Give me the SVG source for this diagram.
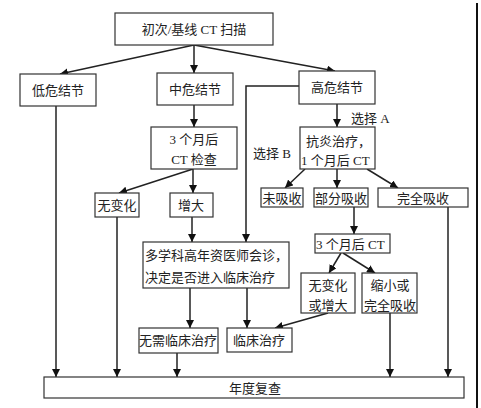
<svg xmlns="http://www.w3.org/2000/svg" width="481" height="408" viewBox="0 0 481 408">
<style>
.b{fill:#fff;stroke:#333;stroke-width:1.2}
.t{font-family:"Liberation Serif","Noto Sans CJK SC",serif;font-size:13px;fill:#222}
.c{text-anchor:middle}
.l{fill:none;stroke:#222;stroke-width:1.5}
</style>
<defs>
<marker id="a" viewBox="0 0 10 10" refX="10" refY="5" markerWidth="8" markerHeight="8" markerUnits="userSpaceOnUse" orient="auto">
<path d="M0,0L10,5L0,10z" fill="#111"/>
</marker>
</defs>
<rect width="481" height="408" fill="#fff"/>
<line x1="477" y1="3" x2="477" y2="408" stroke="#111" stroke-width="2"/>
<g id="connectors" class="l">
<line x1="194" y1="45" x2="60" y2="74" marker-end="url(#a)"/>
<line x1="194" y1="45" x2="194" y2="73" marker-end="url(#a)"/>
<line x1="194" y1="45" x2="335" y2="71" marker-end="url(#a)"/>
<line x1="56" y1="106" x2="56" y2="377" marker-end="url(#a)"/>
<line x1="194" y1="105" x2="194" y2="127" marker-end="url(#a)"/>
<line x1="193" y1="169" x2="119" y2="193" marker-end="url(#a)"/>
<line x1="193" y1="169" x2="193" y2="193" marker-end="url(#a)"/>
<line x1="117" y1="217" x2="117" y2="377" marker-end="url(#a)"/>
<line x1="192" y1="217" x2="192" y2="242" marker-end="url(#a)"/>
<polyline points="299,86 246,86 246,242" marker-end="url(#a)"/>
<line x1="190" y1="288" x2="190" y2="328" marker-end="url(#a)"/>
<line x1="247" y1="288" x2="247" y2="328" marker-end="url(#a)"/>
<line x1="177" y1="353" x2="177" y2="377" marker-end="url(#a)"/>
<line x1="337" y1="104" x2="337" y2="127" marker-end="url(#a)"/>
<line x1="305" y1="169" x2="285" y2="188" marker-end="url(#a)"/>
<line x1="337" y1="169" x2="337" y2="188" marker-end="url(#a)"/>
<line x1="367" y1="169" x2="398" y2="188" marker-end="url(#a)"/>
<line x1="354" y1="207" x2="354" y2="234" marker-end="url(#a)"/>
<line x1="448" y1="207" x2="448" y2="377" marker-end="url(#a)"/>
<line x1="341" y1="253" x2="329" y2="273" marker-end="url(#a)"/>
<line x1="343" y1="253" x2="375" y2="273" marker-end="url(#a)"/>
<line x1="328" y1="313" x2="275" y2="328" marker-end="url(#a)"/>
<line x1="390" y1="313" x2="390" y2="377" marker-end="url(#a)"/>
</g>
<g id="n-top"><rect class="b" x="115" y="13" width="158" height="32"/><text class="t c" x="194" y="34">初次/基线 CT 扫描</text></g>
<g id="n-low"><rect class="b" x="20" y="74" width="76" height="32"/><text class="t c" x="58" y="95">低危结节</text></g>
<g id="n-mid"><rect class="b" x="157" y="73" width="76" height="32"/><text class="t c" x="195" y="94">中危结节</text></g>
<g id="n-high"><rect class="b" x="299" y="71" width="76" height="33"/><text class="t c" x="337" y="92">高危结节</text></g>
<g id="n-3m"><rect class="b" x="151" y="127" width="86" height="42"/><text class="t c" x="194" y="144">3 个月后</text><text class="t c" x="194" y="164">CT 检查</text></g>
<g id="n-nochange"><rect class="b" x="95" y="193" width="44" height="24"/><text class="t c" x="117" y="210">无变化</text></g>
<g id="n-grow"><rect class="b" x="170" y="193" width="43" height="24"/><text class="t c" x="191" y="210">增大</text></g>
<g id="n-mdt"><rect class="b" x="143" y="242" width="146" height="46"/><text class="t" x="145" y="260">多学科高年资医师会诊，</text><text class="t" x="145" y="282">决定是否进入临床治疗</text></g>
<g id="n-notreat"><rect class="b" x="139" y="328" width="79" height="25"/><text class="t c" x="178" y="345">无需临床治疗</text></g>
<g id="n-treat"><rect class="b" x="227" y="328" width="65" height="24"/><text class="t c" x="259" y="345">临床治疗</text></g>
<g id="n-anti"><rect class="b" x="300" y="127" width="75" height="42"/><text class="t" x="306" y="146">抗炎治疗，</text><text class="t" x="301" y="165">1 个月后 CT</text></g>
<g id="n-noabs"><rect class="b" x="261" y="188" width="42" height="19"/><text class="t c" x="282" y="203">未吸收</text></g>
<g id="n-partabs"><rect class="b" x="314" y="188" width="54" height="19"/><text class="t c" x="341" y="203">部分吸收</text></g>
<g id="n-fullabs"><rect class="b" x="378" y="188" width="90" height="19"/><text class="t c" x="423" y="203">完全吸收</text></g>
<g id="n-3mct"><rect class="b" x="315" y="234" width="75" height="19"/><text class="t" x="316" y="249">3 个月后 CT</text></g>
<g id="n-ncg"><rect class="b" x="301" y="273" width="54" height="40"/><text class="t c" x="328" y="290">无变化</text><text class="t c" x="328" y="310">或增大</text></g>
<g id="n-shrink"><rect class="b" x="362" y="273" width="55" height="40"/><text class="t c" x="390" y="290">缩小或</text><text class="t c" x="390" y="310">完全吸收</text></g>
<g id="n-annual"><rect class="b" x="44" y="377" width="420" height="21"/><text class="t c" x="255" y="393">年度复查</text></g>
<text class="t" x="351" y="123">选择 A</text>
<text class="t" x="253" y="158">选择 B</text>
</svg>
